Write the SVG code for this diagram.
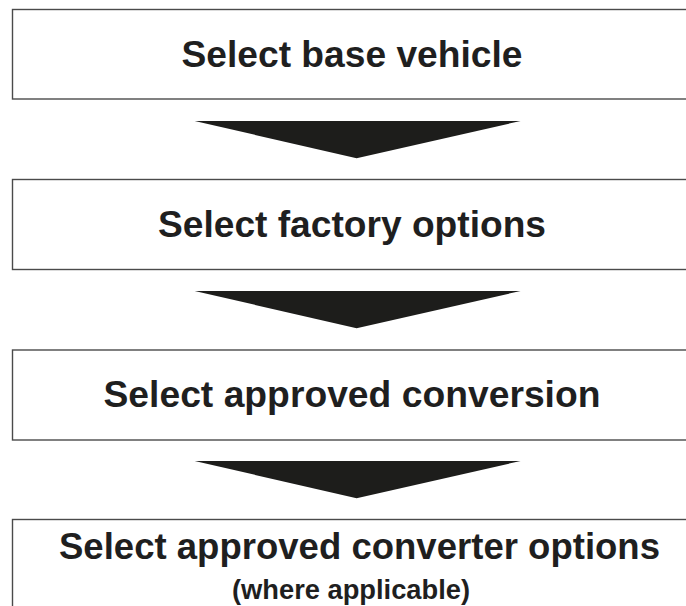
<svg xmlns="http://www.w3.org/2000/svg" width="686" height="606" viewBox="0 0 686 606">
<style>
.box{fill:#ffffff;stroke:#4a4a4a;stroke-width:1.4}
.t{font-family:"Liberation Sans",Arial,sans-serif;font-weight:bold;fill:#1f1f1f;text-anchor:middle}
.big{font-size:37px}
.small{font-size:27px}
.arrow{fill:#1d1d1b}
</style>
<rect width="686" height="606" fill="#ffffff"/>
<g id="node1">
<rect class="box" x="12.5" y="9.5" width="700" height="89.5"/>
<text class="t big" x="352" y="67" textLength="341" lengthAdjust="spacingAndGlyphs">Select base vehicle</text>
</g>
<g id="node2">
<rect class="box" x="12.5" y="179.5" width="700" height="90"/>
<text class="t big" x="352" y="237" textLength="388" lengthAdjust="spacingAndGlyphs">Select factory options</text>
</g>
<g id="node3">
<rect class="box" x="12.5" y="350" width="700" height="90"/>
<text class="t big" x="352" y="407" textLength="497" lengthAdjust="spacingAndGlyphs">Select approved conversion</text>
</g>
<g id="node4">
<rect class="box" x="12.5" y="519.5" width="700" height="110"/>
<text class="t big" x="359.5" y="559" textLength="601" lengthAdjust="spacingAndGlyphs">Select approved converter options</text>
<text class="t small" x="351" y="599" textLength="238" lengthAdjust="spacingAndGlyphs">(where applicable)</text>
</g>
<g id="connectors">
<polygon class="arrow" points="194.7,121 520.6,121 356.6,158.3"/>
<polygon class="arrow" points="194.7,291 520.6,291 356.6,328.3"/>
<polygon class="arrow" points="194.7,461 520.6,461 356.6,498.3"/>
</g>
</svg>
